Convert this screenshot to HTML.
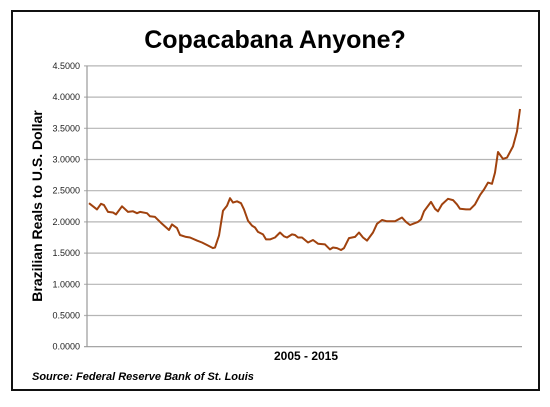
<!DOCTYPE html>
<html><head><meta charset="utf-8"><style>
html,body{margin:0;padding:0;background:#fff;}
body{width:550px;height:407px;overflow:hidden;position:relative;font-family:"Liberation Sans",Arial,sans-serif;}
#frame{position:absolute;left:11px;top:10px;width:525px;height:377px;border:2px solid #111;}
</style></head><body>
<div id="frame"></div>
<svg id="chart" width="550" height="407" style="position:absolute;left:0;top:0">
<text x="275" y="48" text-anchor="middle" font-size="25" font-weight="bold" fill="#000">Copacabana Anyone?</text>
<text transform="translate(42,206) rotate(-90)" text-anchor="middle" font-size="14" font-weight="bold" fill="#000">Brazilian Reals to U.S. Dollar</text>
<text x="306" y="360" text-anchor="middle" font-size="12" font-weight="bold" fill="#000">2005 - 2015</text>
<text x="32" y="380" font-size="11" font-weight="bold" font-style="italic" fill="#000">Source: Federal Reserve Bank of St. Louis</text>
<g id="grid"></g><g id="series"></g>
</svg>
<script>
const yTicks=[0,0.5,1,1.5,2,2.5,3,3.5,4,4.5];
const months=[0,2.4,3.6,4.5,5.7,7.2,8.1,9.9,11.7,13.2,14.4,15.3,17.4,18.3,19.8,21.9,24,24.9,26.4,27.3,29.1,30.3,32.4,33.9,35.4,37.2,37.8,39,40.2,41.4,42.3,43.2,44.4,45.6,46.5,47.7,48.9,49.8,50.7,52.2,53.1,54.3,55.8,57.3,58.5,59.4,60.9,61.8,62.7,63.9,65.7,67.2,68.7,70.8,72.3,73.2,74.4,75.6,76.5,78,79.8,81,82.2,83.4,85.2,86.4,87.9,89.4,91.8,93.9,95.1,96.3,98.7,99.6,100.5,102.6,103.8,104.7,105.9,107.7,109.2,110.4,111.3,113.1,114.3,115.8,117.3,118.5,119.7,120.9,121.8,122.7,124.2,125.4,127.2,128.4,129.3];
const rates=[2.30,2.20,2.29,2.27,2.16,2.15,2.12,2.25,2.16,2.17,2.14,2.16,2.14,2.09,2.08,1.97,1.87,1.96,1.90,1.79,1.76,1.75,1.70,1.67,1.63,1.58,1.59,1.78,2.18,2.26,2.38,2.31,2.33,2.30,2.20,2.02,1.94,1.91,1.84,1.80,1.72,1.72,1.75,1.83,1.77,1.75,1.80,1.79,1.75,1.75,1.67,1.71,1.65,1.64,1.56,1.59,1.58,1.55,1.58,1.74,1.76,1.83,1.75,1.70,1.83,1.97,2.03,2.01,2.01,2.07,2.00,1.95,2.00,2.04,2.17,2.32,2.21,2.17,2.28,2.37,2.35,2.28,2.21,2.20,2.20,2.28,2.43,2.52,2.63,2.61,2.79,3.12,3.01,3.03,3.21,3.45,3.81];
const NS='http://www.w3.org/2000/svg';
function xS(m){return 89+m*(520-89)/129.3;}
function yS(v){return 346.7-v*62.4;}
const grid=document.getElementById('grid');
yTicks.forEach(function(t){
  const y=yS(t);
  const l=document.createElementNS(NS,'line');
  l.setAttribute('x1',84);l.setAttribute('x2',522);l.setAttribute('y1',y);l.setAttribute('y2',y);
  l.setAttribute('stroke',t===0?'#999':'#b5b5b5');l.setAttribute('stroke-width','1.2');
  
  
  grid.appendChild(l);
  const tx=document.createElementNS(NS,'text');
  tx.setAttribute('x',80);tx.setAttribute('y',y+3);tx.setAttribute('text-anchor','end');
  tx.setAttribute('font-size','9');tx.setAttribute('fill','#222');
  tx.textContent=t.toFixed(4);
  
  
  grid.appendChild(tx);
});
const ax=document.createElementNS(NS,'line');
ax.setAttribute('x1',87);ax.setAttribute('x2',87);ax.setAttribute('y1',yS(4.5));ax.setAttribute('y2',yS(0));
ax.setAttribute('stroke','#999');ax.setAttribute('stroke-width','1.2');


grid.appendChild(ax);
const p=document.createElementNS(NS,'polyline');
p.setAttribute('points',months.map(function(m,i){return xS(m).toFixed(1)+','+yS(rates[i]).toFixed(1);}).join(' '));
p.setAttribute('fill','none');p.setAttribute('stroke','#a0420e');p.setAttribute('stroke-width','2');p.setAttribute('stroke-linejoin','round');


document.getElementById('series').appendChild(p);
</script>
</body></html>
